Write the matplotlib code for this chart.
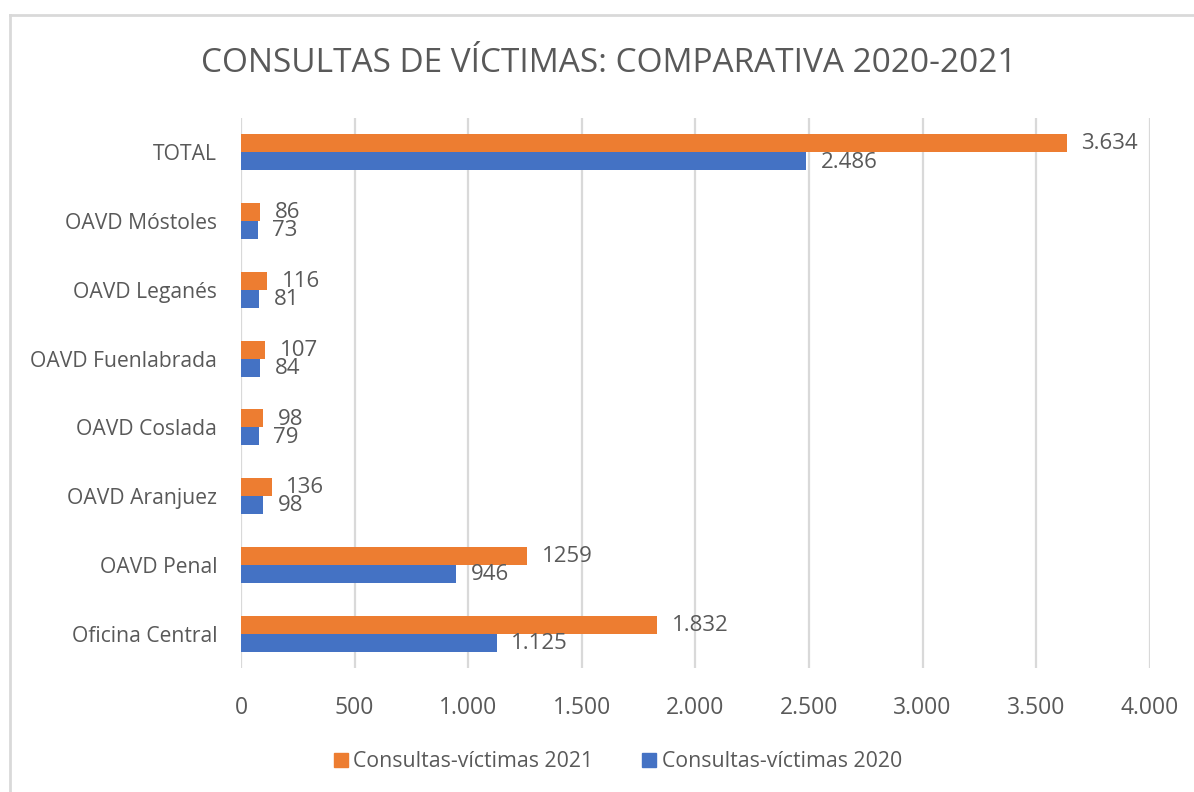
import matplotlib
matplotlib.use("Agg")
import matplotlib.pyplot as plt
from matplotlib.lines import Line2D
import numpy as np

# ── Data ────────────────────────────────────────────────────────────────
categories = ["TOTAL", "OAVD Móstoles", "OAVD Leganés", "OAVD Fuenlabrada",
              "OAVD Coslada", "OAVD Aranjuez", "OAVD Penal", "Oficina Central"]
victimas_2021 = [3634, 86, 116, 107, 98, 136, 1259, 1832]
victimas_2020 = [2486, 73, 81, 84, 79, 98, 946, 1125]
labels_2021 = ["3.634", "86", "116", "107", "98", "136", "1259", "1.832"]
labels_2020 = ["2.486", "73", "81", "84", "79", "98", "946", "1.125"]
xticks = [0, 500, 1000, 1500, 2000, 2500, 3000, 3500, 4000]
xtick_labels = ["0", "500", "1.000", "1.500", "2.000", "2.500", "3.000", "3.500", "4.000"]

ORANGE = "#ED7D31"
BLUE = "#4472C4"
TEXT = "#595959"
GRID = "#D9D9D9"

plt.rcParams.update({"font.family": ["Open Sans", "DejaVu Sans"]})

fig = plt.figure(figsize=(11.94, 7.92), dpi=100)
ax = fig.add_axes([0.2018, 0.1566, 0.7612, 0.6945])

n = len(categories)
y = np.arange(n)[::-1]  # TOTAL on top
h = 0.262

b21 = ax.barh(y + h / 2, victimas_2021, height=h, color=ORANGE)
b20 = ax.barh(y - h / 2, victimas_2020, height=h, color=BLUE)

for bars, labels in [(b21, labels_2021), (b20, labels_2020)]:
    for rect, lab in zip(bars, labels):
        ax.annotate(lab, (rect.get_width(), rect.get_y() + rect.get_height() / 2),
                    xytext=(10.5, -0.5), textcoords="offset points", va="center", ha="left",
                    fontsize=16, color=TEXT)

ax.set_xlim(0, 4000)
ax.set_ylim(-0.5, n - 0.5)
ax.set_xticks(xticks)
ax.set_xticklabels(xtick_labels)
ax.set_yticks(y)
ax.set_yticklabels(categories)
ax.tick_params(axis="both", length=0, colors=TEXT)
ax.tick_params(axis="x", pad=20.5, labelsize=16.5)
ax.tick_params(axis="y", pad=17, labelsize=15.2)
ax.xaxis.grid(True, color=GRID, linewidth=1.6)
ax.set_axisbelow(True)
for s in ax.spines.values():
    s.set_visible(False)

fig.text(0.51, 0.92, "CONSULTAS DE VÍCTIMAS: COMPARATIVA 2020-2021",
         ha="center", va="center", fontsize=24, color=TEXT)

handles = [Line2D([], [], marker="s", linestyle="", markersize=9.5, color=ORANGE),
           Line2D([], [], marker="s", linestyle="", markersize=9.5, color=BLUE)]
fig.legend(handles, ["Consultas-víctimas 2021", "Consultas-víctimas 2020"],
           loc="center", bbox_to_anchor=(0.515, 0.038), ncol=2, frameon=False,
           fontsize=15.3, labelcolor=TEXT, handletextpad=0.0, columnspacing=2.0,
           handlelength=1.2)

# chart frame (top and left edges visible in the crop)
fig.add_artist(Line2D([0.0084, 1.0], [0.981, 0.981], color="#D9D9D9", linewidth=2,
                      transform=fig.transFigure))
fig.add_artist(Line2D([0.0084, 0.0084], [0.0, 0.981], color="#D9D9D9", linewidth=2,
                      transform=fig.transFigure))

fig.savefig("out.png", dpi=100)
